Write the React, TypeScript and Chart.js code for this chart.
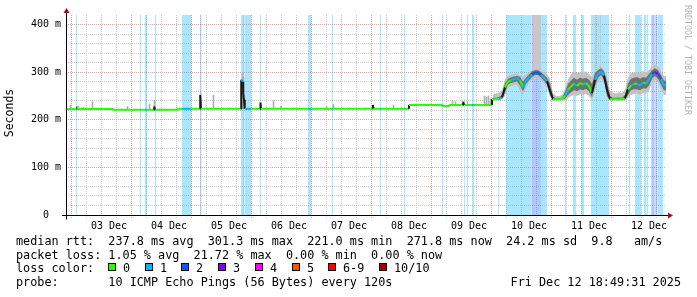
import { useEffect, useRef } from 'react';
import { Chart, registerables } from 'chart.js';

Chart.register(...registerables);

// x axis: hours since 02 Dec 00:00 ; y axis: milliseconds
const X_MIN = 18.8;
const X_MAX = 258.8;
const Y_MAX = 420;

const dayLabels = ['03 Dec', '04 Dec', '05 Dec', '06 Dec', '07 Dec', '08 Dec', '09 Dec', '10 Dec', '11 Dec', '12 Dec'];
const dayNoonHours = [36, 60, 84, 108, 132, 156, 180, 204, 228, 252];
const yLabelValues = [0, 100, 200, 300, 400];
const yLabelTexts = ['0  ', '100 m', '200 m', '300 m', '400 m'];

const lossColors = ['#26ff00', '#00b8ff', '#0059ff', '#7e00ff', '#ff00ff', '#ff5500', '#ff0000', '#a10000'];
const lossLabels = ['0', '1', '2', '3', '4', '5', '6-9', '10/10'];
const lossBgColors = ['rgba(0,184,255,0.34)', 'rgba(0,89,255,0.32)', 'rgba(126,0,255,0.34)'];

// loss background bands [start h, end h]
const loss1Bands = [
  [22.8, 23.2], [48.4, 48.8], [50.4, 51.2], [54.4, 54.8], [65.2, 68.8], [88.8, 89.6], [90.2, 92.8],
  [96.4, 96.8], [115.6, 116.8], [125.2, 125.6], [144.4, 144.8], [154.0, 154.4], [169.2, 169.6],
  [178.0, 178.4], [179.2, 179.6], [181.2, 182.0], [191.6, 192.0], [194.8, 205.1], [208.8, 211.2],
  [218.4, 218.8], [221.6, 222.8], [224.8, 226.0], [228.8, 236.0], [244.0, 244.4], [246.4, 248.8],
  [250.0, 250.8], [251.0, 251.8], [252.8, 253.2], [255.4, 257.6],
];
const loss2Bands = [[72.4, 73.0], [89.6, 90.2], [205.6, 208.8], [253.2, 254.3], [254.7, 255.4]];
const loss3Bands = [[205.1, 205.6], [254.3, 254.7]];

// tall smoke columns (pings beyond the top of the graph)
const tallSmokeBands = [[205.6, 208.8], [230.2, 230.8], [231.4, 231.8], [232.2, 232.8]];

// median rtt line
const medianHours = [
  18.8, 22.8, 23.2, 23.3, 23.6, 37.6, 37.6, 48.4, 48.8, 50.4, 51.2, 54.0, 54.1, 54.4, 54.8, 63.6, 63.6,
  65.2, 68.8, 72.4, 72.5, 72.8, 88.8, 88.9, 89.6, 89.7, 90.0, 90.3, 92.8, 96.4, 96.6, 96.8, 115.6, 116.8,
  125.2, 125.6, 141.5, 141.6, 141.8, 144.4, 144.8, 154.0, 154.4, 156.0, 156.0, 169.2, 169.6, 172.0, 172.1,
  177.6, 177.7, 178.0, 178.4, 181.2, 182.0, 189.2, 189.2,
  189.6, 190.8, 192.0, 193.2, 194.4, 195.6, 196.8, 198.0, 199.2, 200.4,
  201.6, 202.8, 204.0, 205.2, 206.4, 207.6, 208.8, 210.0, 211.2, 212.4,
  213.6, 214.8, 216.0, 217.2, 218.4, 219.6, 220.8, 222.0, 223.2, 224.4,
  225.6, 226.8, 228.0, 229.2, 230.4, 231.6, 232.8, 234.0, 235.2, 236.4,
  237.6, 238.8, 240.0, 241.2, 242.4, 243.6, 244.8, 246.0, 247.2, 248.4,
  249.6, 250.8, 252.0, 253.2, 254.4, 255.6, 256.8, 258.0, 258.8,
];
const medianMs = [
  222.5, 222.5, 222.5, 228, 222.5, 222.5, 221, 221, 221, 221, 221, 221, 228, 221, 221, 221, 223,
  223, 223, 223, 252, 223, 223, 284, 280, 256, 242, 223, 223, 223, 236, 223, 223, 223,
  223, 223, 223, 231, 223, 223, 223, 223, 223, 223, 231, 231, 229, 229, 231,
  231, 238, 231, 231, 231, 231, 231, 243,
  243, 243, 244, 247, 268, 280, 283, 285, 287, 283,
  268, 282, 289, 295, 299, 299, 294, 288, 281, 262,
  243, 243, 243, 243, 250, 263, 270, 276, 271, 277,
  274, 277, 271, 256, 284, 296, 301.3, 293, 263, 243,
  243, 243, 243, 243, 245, 264, 272, 275, 276, 272,
  278, 276, 285, 296, 301, 296, 285, 273, 271.8,
];
const medianLoss = [
  0, 1, 0, 0, 0, 0, 0, 1, 0, 1, 0, 0, 0, 1, 0, 0, 0,
  1, 0, 2, 2, 0, 1, 1, 1, 2, 2, 1, 0, 1, 1, 0, 1, 0,
  1, 0, 0, 0, 0, 1, 0, 1, 0, 0, 0, 1, 0, 0, 0,
  0, 0, 1, 0, 1, 0, 0, 0,
  0, 0, 1, 0, 0, 0, 1, 1, 1, 0,
  1, 1, 1, 2, 2, 2, 1, 1, 0, 0,
  0, 0, 0, 0, 1, 0, 0, 1, 0, 0,
  1, 0, 0, 1, 1, 1, 1, 1, 1, 0,
  0, 0, 0, 0, 0, 0, 1, 0, 1, 1,
  0, 1, 1, 2, 3, 2, 1, 1, 1,
];

// smoke (ping spread) in the busy part
const smokeHours = [
  189.6, 190.8, 192.0, 193.2, 194.4, 195.6, 196.8, 198.0, 199.2, 200.4,
  201.6, 202.8, 204.0, 205.2, 206.4, 207.6, 208.8, 210.0, 211.2, 212.4,
  213.6, 214.8, 216.0, 217.2, 218.4, 219.6, 220.8, 222.0, 223.2, 224.4,
  225.6, 226.8, 228.0, 229.2, 230.4, 231.6, 232.8, 234.0, 235.2, 236.4,
  237.6, 238.8, 240.0, 241.2, 242.4, 243.6, 244.8, 246.0, 247.2, 248.4,
  249.6, 250.8, 252.0, 253.2, 254.4, 255.6, 256.8, 258.0, 258.8,
];
const smokeOuterLo = [
  240, 241, 241, 243, 250, 268, 270, 272, 274, 262,
  252, 268, 278, 284, 288, 288, 282, 275, 268, 248,
  240, 241, 241, 241, 240, 245, 250, 252, 250, 254,
  252, 255, 250, 240, 262, 280, 286, 275, 245, 240,
  240, 241, 240, 240, 241, 246, 252, 254, 255, 252,
  256, 255, 262, 278, 284, 278, 265, 252, 252,
];
const smokeOuterHi = [
  254, 255, 256, 262, 285, 292, 295, 296, 297, 294,
  290, 294, 300, 304, 308, 308, 304, 300, 296, 286,
  256, 250, 250, 252, 265, 285, 295, 302, 298, 300,
  300, 302, 296, 290, 300, 308, 312, 306, 290, 262,
  256, 255, 258, 256, 262, 288, 298, 300, 300, 298,
  302, 300, 304, 312, 316, 312, 302, 292, 292,
];
const smokeInnerLo = [
  242, 242, 242, 245, 258, 274, 277, 279, 281, 272,
  260, 275, 283, 290, 294, 294, 289, 282, 274, 252,
  242, 242, 242, 242, 244, 252, 258, 262, 260, 264,
  262, 265, 260, 248, 272, 288, 294, 284, 250, 242,
  242, 242, 242, 242, 243, 252, 262, 264, 264, 262,
  266, 265, 272, 286, 292, 286, 274, 262, 262,
];
const smokeInnerHi = [
  246, 246, 248, 252, 276, 286, 289, 291, 292, 290,
  280, 288, 295, 302, 304, 304, 300, 294, 288, 275,
  248, 245, 245, 246, 258, 275, 282, 288, 284, 288,
  286, 288, 284, 275, 298, 304, 308, 302, 280, 250,
  246, 246, 247, 246, 252, 276, 286, 288, 290, 286,
  290, 288, 296, 304, 308, 304, 294, 282, 282,
];

// isolated smoke spikes in the quiet part
const spikeHours = [20.6, 25.8, 29.4, 43.4, 52.2, 54.2, 72.6, 77.8, 89.4, 89.8, 101.8, 104.8, 123.0, 125.8, 149.8, 173.4, 174.6, 179.4, 186.2, 187.0, 187.8, 188.6];
const spikeLo = [222.5, 222.5, 222.5, 221, 221, 221, 223, 223, 223, 223, 223, 223, 223, 223, 223, 231, 231, 231, 231, 231, 231, 231];
const spikeHi = [231, 226, 238, 228, 233, 241, 256, 252, 298, 290, 240, 228, 228, 232, 231, 240, 238, 238, 250, 247, 250, 244];

const legendRow1 = 'median rtt:  237.8 ms avg  301.3 ms max  221.0 ms min  271.8 ms now  24.2 ms sd  9.8   am/s';
const legendRow2 = 'packet loss: 1.05 % avg  21.72 % max  0.00 % min  0.00 % now';
const legendRow3 = 'loss color:';
const legendRow4 = 'probe:       10 ICMP Echo Pings (56 Bytes) every 120s';
const stampText = 'Fri Dec 12 18:49:31 2025';
const sideText = 'RRDTOOL / TOBI OETIKER';
const yTitle = 'Seconds';

const FONT = '"DejaVu Sans Mono", monospace';
const MAJOR = '#eca0a0';
const MINOR = '#cccccc';

const bandData = (bands: number[][], top: number) =>
  bands.flatMap(([a, b]) => [{ x: a, y: top }, { x: b, y: top }, { x: b, y: null as any }]);

const decorPlugin = {
  id: 'decor',
  afterDraw(chart: any) {
    const ctx = chart.ctx as CanvasRenderingContext2D;
    const { left, right, top } = chart.chartArea;
    const y0 = Math.round(chart.scales.y.getPixelForValue(0)) + 0.5;
    const x0 = Math.round(left) + 0.5;
    ctx.save();
    ctx.strokeStyle = '#000';
    ctx.lineWidth = 1;
    ctx.setLineDash([]);
    ctx.beginPath();
    ctx.moveTo(x0, top - 2);
    ctx.lineTo(x0, y0 + 4);
    ctx.moveTo(left - 4, y0);
    ctx.lineTo(right + 2, y0);
    ctx.stroke();
    ctx.fillStyle = '#a01010';
    ctx.beginPath();
    ctx.moveTo(x0 - 3, top - 2);
    ctx.lineTo(x0 + 3, top - 2);
    ctx.lineTo(x0, top - 7);
    ctx.closePath();
    ctx.fill();
    ctx.beginPath();
    ctx.moveTo(right + 2, y0 - 3);
    ctx.lineTo(right + 2, y0 + 3);
    ctx.lineTo(right + 7, y0);
    ctx.closePath();
    ctx.fill();

    // legend
    ctx.fillStyle = '#000';
    ctx.font = `11.8px ${FONT}`;
    ctx.textBaseline = 'alphabetic';
    ctx.textAlign = 'left';
    ctx.fillText(legendRow1, 16, 245);
    ctx.fillText(legendRow2, 16, 258.5);
    ctx.fillText(legendRow3, 16, 272);
    ctx.fillText(legendRow4, 16, 285.5);
    let bx = 108;
    lossLabels.forEach((lab, i) => {
      const x = Math.round(bx);
      ctx.fillStyle = lossColors[i];
      ctx.fillRect(x, 263, 8, 8);
      ctx.strokeStyle = '#000';
      ctx.strokeRect(x + 0.5, 263.5, 7, 7);
      ctx.fillStyle = '#000';
      ctx.fillText(lab, x + 15, 272);
      bx = bx + 15 + ctx.measureText(lab).width + 14.6;
    });
    ctx.textAlign = 'right';
    ctx.fillText(stampText, 681, 285.5);

    // y title
    ctx.save();
    ctx.translate(10.5, 113);
    ctx.rotate(-Math.PI / 2);
    ctx.textAlign = 'center';
    ctx.textBaseline = 'middle';
    ctx.font = `11.5px ${FONT}`;
    ctx.fillText(yTitle, 0, 0);
    ctx.restore();

    // side credit
    ctx.save();
    ctx.translate(687.5, 5);
    ctx.rotate(Math.PI / 2);
    ctx.textAlign = 'left';
    ctx.textBaseline = 'middle';
    ctx.font = `8.3px ${FONT}`;
    ctx.fillStyle = '#b4b4b4';
    ctx.fillText(sideText, 0, 0);
    ctx.restore();
    ctx.restore();
  },
};

export default function App() {
  const ref = useRef<HTMLCanvasElement>(null);
  useEffect(() => {
    const canvas = ref.current!;
    const lineBase = { type: 'line' as const, pointRadius: 0, borderWidth: 0, borderColor: 'transparent', tension: 0, spanGaps: false };
    const chart = new Chart(canvas, {
      type: 'line',
      data: {
        datasets: [
          {
            type: 'line',
            data: medianHours.map((h, i) => ({ x: h, y: medianMs[i] })),
            borderWidth: 2,
            pointRadius: 0,
            tension: 0,
            fill: false,
            borderJoinStyle: 'bevel',
            borderColor: lossColors[0],
            segment: {
              borderColor: (c: any) => {
                const dx = Math.abs(c.p1.x - c.p0.x);
                const dy = Math.abs(c.p1.y - c.p0.y);
                if (dy > 2 * dx + 1.5) return '#1a1a1a';
                return lossColors[medianLoss[c.p0DataIndex]];
              },
            },
          } as any,
          { ...lineBase, data: smokeHours.map((h, i) => ({ x: h, y: smokeInnerHi[i] })), fill: '+1', backgroundColor: '#707070' },
          { ...lineBase, data: smokeHours.map((h, i) => ({ x: h, y: smokeInnerLo[i] })), fill: false },
          { ...lineBase, data: smokeHours.map((h, i) => ({ x: h, y: smokeOuterHi[i] })), fill: '+1', backgroundColor: '#c2c2c2' },
          { ...lineBase, data: smokeHours.map((h, i) => ({ x: h, y: smokeOuterLo[i] })), fill: false },
          {
            type: 'bar',
            data: spikeHours.map((h, i) => ({ x: h, y: [spikeLo[i], spikeHi[i]] })),
            backgroundColor: '#b0b0b0',
            borderWidth: 0,
            barThickness: 1,
          } as any,
          { ...lineBase, data: bandData(tallSmokeBands, Y_MAX), fill: { value: 290 }, backgroundColor: '#c8c8c8' },
          { ...lineBase, data: bandData(loss3Bands, Y_MAX), fill: 'origin', backgroundColor: lossBgColors[2] },
          { ...lineBase, data: bandData(loss2Bands, Y_MAX), fill: 'origin', backgroundColor: lossBgColors[1] },
          { ...lineBase, data: bandData(loss1Bands, Y_MAX), fill: 'origin', backgroundColor: lossBgColors[0] },
        ] as any,
      },
      options: {
        animation: false,
        responsive: false,
        devicePixelRatio: 1,
        events: [],
        layout: { padding: { top: 15, right: 31, bottom: 0, left: 0 } },
        plugins: { legend: { display: false }, tooltip: { enabled: false }, title: { display: false } },
        scales: {
          x: {
            type: 'linear',
            min: X_MIN,
            max: X_MAX,
            offset: false,
            afterFit: (s: any) => { s.height = 82; },
            afterBuildTicks: (s: any) => {
              const t = [];
              for (let h = 24; h <= X_MAX; h += 6) t.push({ value: h });
              s.ticks = t;
            },
            ticks: {
              autoSkip: false,
              maxRotation: 0,
              minRotation: 0,
              padding: 2,
              color: '#000',
              font: { family: FONT, size: 10 },
              callback: (v: any) => {
                const i = dayNoonHours.indexOf(Number(v));
                return i >= 0 ? dayLabels[i] : '';
              },
            },
            grid: {
              color: (c: any) => (c.tick && c.tick.value % 24 === 0 ? MAJOR : MINOR),
              tickColor: (c: any) => (c.tick && c.tick.value % 24 === 0 ? MAJOR : MINOR),
              lineWidth: 1,
              drawTicks: true,
              tickLength: 3,
              tickBorderDash: [1, 1],
            },
            border: { display: false, dash: [1, 1] },
          },
          y: {
            type: 'linear',
            min: 0,
            max: Y_MAX,
            afterFit: (s: any) => { s.width = 66; },
            afterBuildTicks: (s: any) => {
              const t = [];
              for (let v = 0; v <= 400; v += 20) t.push({ value: v });
              s.ticks = t;
            },
            ticks: {
              autoSkip: false,
              padding: 5,
              color: '#000',
              font: { family: FONT, size: 10 },
              callback: (v: any) => {
                const i = yLabelValues.indexOf(Number(v));
                return i >= 0 ? yLabelTexts[i] : '';
              },
            },
            grid: {
              color: (c: any) => (c.tick && c.tick.value % 100 === 0 ? MAJOR : MINOR),
              lineWidth: 1,
              drawTicks: false,
            },
            border: { display: false, dash: [1, 1] },
          },
        },
      } as any,
      plugins: [decorPlugin],
    });
    return () => chart.destroy();
  }, []);
  return (
    <div style={{ position: 'fixed', left: 0, top: 0, width: 697, height: 297, background: '#fff' }}>
      <canvas ref={ref} width={697} height={297} style={{ display: 'block', width: 697, height: 297 }} />
    </div>
  );
}
